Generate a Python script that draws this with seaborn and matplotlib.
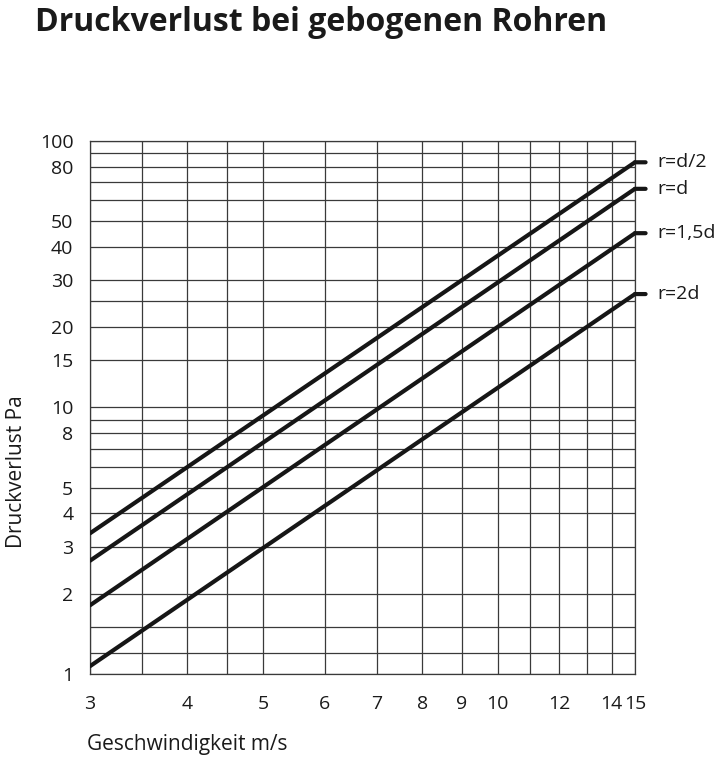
import numpy as np
import pandas as pd
import matplotlib
matplotlib.use("Agg")
import matplotlib.pyplot as plt
from matplotlib.ticker import FixedLocator, NullFormatter, FixedFormatter
import seaborn as sns

# values (end points, straight lines in log-log)
speed = [3, 15]
r_d2 = [3.37, 83.0]
r_d = [2.66, 66.0]
r_15d = [1.81, 45.0]
r_2d = [1.07, 26.6]
curve_names = ["r=d/2", "r=d", "r=1,5d", "r=2d"]

x_major = [3, 4, 5, 6, 7, 8, 9, 10, 12, 14, 15]
x_minor = [3.5, 4.5, 11, 13]
y_major = [1, 2, 3, 4, 5, 8, 10, 15, 20, 30, 40, 50, 80, 100]
y_minor = [1.2, 1.5, 6, 7, 9, 25, 60, 70, 90]

rows = []
for name, vals in zip(curve_names, [r_d2, r_d, r_15d, r_2d]):
    for v, p in zip(speed, vals):
        rows.append({"speed": v, "dp": p, "curve": name})
df = pd.DataFrame(rows)

sns.set_theme(style="white")
plt.rcParams['font.family'] = ['Open Sans', 'DejaVu Sans']

fig = plt.figure(figsize=(7.2, 7.61), dpi=100)
ax = fig.add_axes([0.125, 0.1143, 0.7569, 0.7008])

grid_col = "#3a3a3a"
sns.lineplot(data=df, x="speed", y="dp", hue="curve", palette=["#161616"] * 4,
             linewidth=3.0, legend=False, ax=ax, zorder=3)

ax.set_xscale("log")
ax.set_yscale("log")
ax.set_xlim(3, 15)
ax.set_ylim(1, 100)

ax.xaxis.set_major_locator(FixedLocator(x_major))
ax.xaxis.set_major_formatter(FixedFormatter([str(v) for v in x_major]))
ax.xaxis.set_minor_locator(FixedLocator(x_minor))
ax.xaxis.set_minor_formatter(NullFormatter())
ax.yaxis.set_major_locator(FixedLocator(y_major))
ax.yaxis.set_major_formatter(FixedFormatter([str(v) for v in y_major]))
ax.yaxis.set_minor_locator(FixedLocator(y_minor))
ax.yaxis.set_minor_formatter(NullFormatter())

ax.grid(True, which="both", color=grid_col, linewidth=0.9)
ax.tick_params(which="major", direction="out", length=6, width=0.9, color=grid_col,
               labelsize=14, pad=6, labelcolor="#1a1a1a")
ax.tick_params(axis="x", which="major", pad=9)
ax.tick_params(which="minor", length=0)
for sp in ax.spines.values():
    sp.set_color(grid_col)
    sp.set_linewidth(0.9)

ax.set_xlabel("Geschwindigkeit m/s", fontsize=15, color="#1a1a1a")
ax.xaxis.set_label_coords(-0.005, -0.112)
ax.xaxis.label.set_horizontalalignment("left")
ax.set_ylabel("Druckverlust Pa", fontsize=15, color="#1a1a1a")
ax.yaxis.set_label_coords(-0.115, 0.38)

for name, vals in zip(curve_names, [r_d2, r_d, r_15d, r_2d]):
    ax.annotate(name, xy=(speed[-1], vals[-1]), xytext=(16, 0),
                textcoords="offset points", ha="left", va="center",
                fontsize=14, color="#1a1a1a", annotation_clip=False,
                arrowprops=dict(arrowstyle="-", lw=3.0, color="#161616",
                                shrinkA=6, shrinkB=0))

fig.text(0.048, 0.992, "Druckverlust bei gebogenen Rohren", fontsize=23,
         fontweight="bold", ha="left", va="top", color="#1a1a1a")

fig.savefig("out.png", dpi=100)
